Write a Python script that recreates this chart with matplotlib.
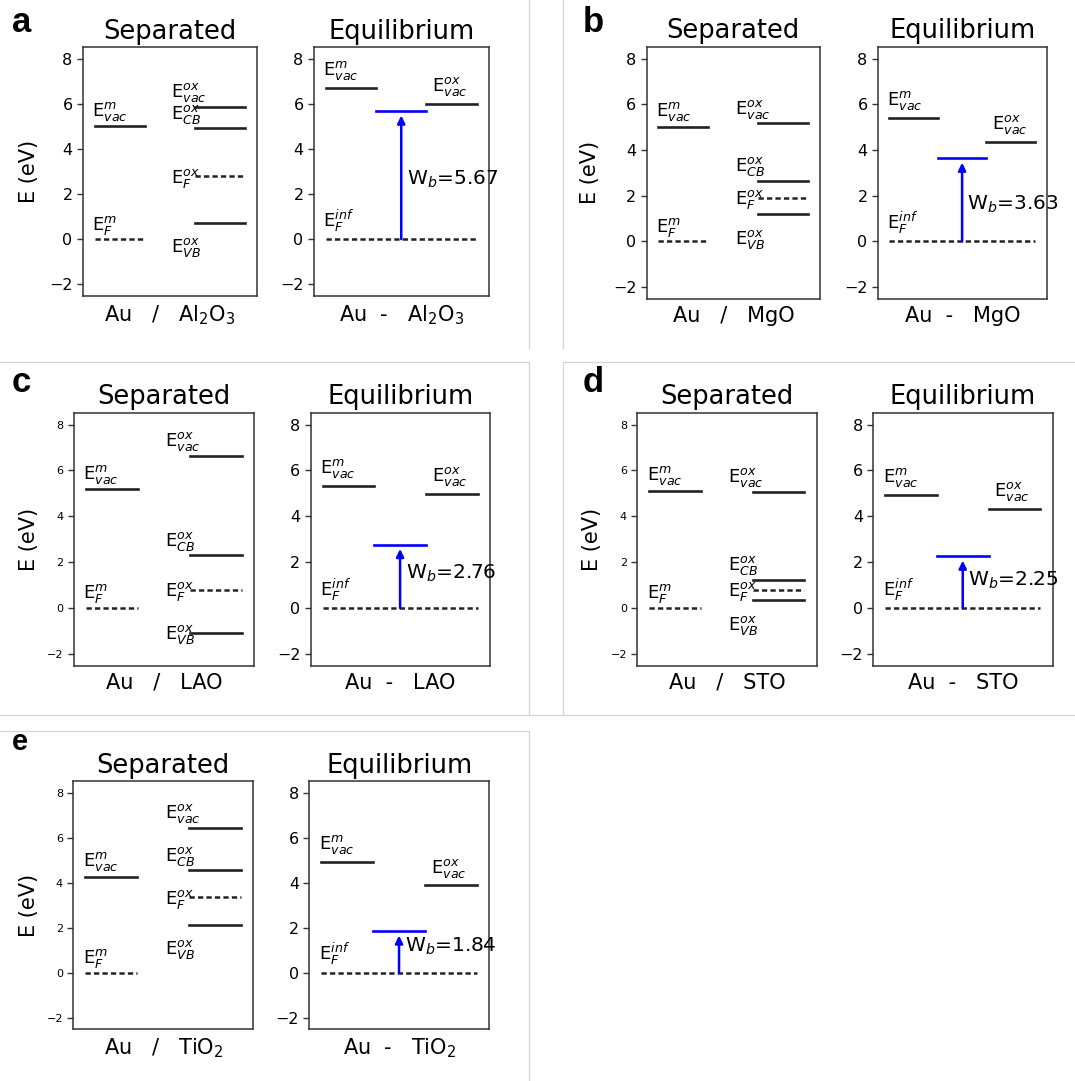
import matplotlib
matplotlib.use("Agg")
import matplotlib.pyplot as plt
from matplotlib.lines import Line2D

plt.rcParams['font.family'] = ['DejaVu Sans']
plt.rcParams['lines.scale_dashes'] = False

# ---------------- data (eV) ----------------
panel_letters = ['a', 'b', 'c', 'd', 'e']
oxides = ['Al$_2$O$_3$', 'MgO', 'LAO', 'STO', 'TiO$_2$']
au_evac_sep = [5.00, 5.02, 5.18, 5.12, 4.27]
au_ef_sep = [0.0, 0.0, 0.0, 0.0, 0.0]
ox_evac_sep = [5.88, 5.17, 6.63, 5.06, 6.45]
ox_cb_sep = [4.92, 2.64, 2.29, 1.22, 4.55]
ox_ef_sep = [2.79, 1.90, 0.79, 0.78, 3.35]
ox_vb_sep = [0.73, 1.20, -1.11, 0.34, 2.13]
au_evac_eq = [6.70, 5.40, 5.30, 4.92, 4.94]
ox_evac_eq = [6.00, 4.36, 4.96, 4.32, 3.88]
ef_eq = [0.0, 0.0, 0.0, 0.0, 0.0]
wb = [5.67, 3.63, 2.76, 2.25, 1.84]
yticks = [-2, 0, 2, 4, 6, 8]

# ---------------- layout (pixels) ----------------
W, H = 1075, 1081
sep_boxes = [(83, 47, 257, 296), (646.7, 46.7, 820, 299), (74, 412.7, 254, 665.7),
             (637.3, 412.7, 816.7, 665.7), (73.3, 781, 253.3, 1029.3)]
eq_boxes = [(314, 47, 489, 296), (878, 46.7, 1046.7, 299), (310.7, 412.7, 490, 665.7),
            (873.3, 412.7, 1052.7, 665.7), (309.3, 781, 489.3, 1029.3)]
sep_tick_size = [11.5, 11.5, 8, 8, 8]
letter_pos = [(12, 32), (583, 32), (12, 392), (583, 392), (12, 750)]
letter_size = [25, 25, 25, 25, 21]
ylabel_x = [29, 590, 29, 591.7, 29]
wb_text_y = [2.65, 1.61, 1.53, 1.20, 1.16]

fig = plt.figure(figsize=(W / 100, H / 100), dpi=100)


def add_ax(box):
    x0, y0, x1, y1 = box
    return fig.add_axes([x0 / W, 1 - y1 / H, (x1 - x0) / W, (y1 - y0) / H])


LC = '#222222'
LW = 1.9
DLW = 1.8
DASH = (3.8, 2.3)
XL = (-0.23, 3.24)
YL = (-2.52, 8.52)
LABFS = 13


def style(ax, tick_size):
    ax.set_xlim(*XL)
    ax.set_ylim(*YL)
    ax.set_xticks([])
    ax.set_yticks(yticks)
    ax.tick_params(axis='y', labelsize=tick_size, color='#333333', length=4, width=1)
    for s in ax.spines.values():
        s.set_color('#333333')
        s.set_linewidth(1.1)


for i in range(5):
    # ---------- separated ----------
    ax = add_ax(sep_boxes[i])
    style(ax, sep_tick_size[i])
    ax.set_title('Separated', fontsize=18.5)
    ax.set_xlabel('Au   /   ' + oxides[i], fontsize=15, labelpad=5)
    ax.plot([0, 1], [au_evac_sep[i]] * 2, color=LC, lw=LW)
    ax.plot([0, 1], [au_ef_sep[i]] * 2, color=LC, lw=DLW, dashes=DASH)
    ax.plot([2, 3], [ox_evac_sep[i]] * 2, color=LC, lw=LW)
    ax.plot([2, 3], [ox_cb_sep[i]] * 2, color=LC, lw=LW)
    ax.plot([2, 3], [ox_ef_sep[i]] * 2, color=LC, lw=DLW, dashes=DASH)
    ax.plot([2, 3], [ox_vb_sep[i]] * 2, color=LC, lw=LW)
    ax.text(-0.05, au_evac_sep[i] + 0.45, r'E$^{m}_{vac}$', fontsize=LABFS)
    ax.text(-0.05, au_ef_sep[i] + 0.42, r'E$^{m}_{F}$', fontsize=LABFS)
    ax.text(1.53, ox_evac_sep[i] + 0.42, r'E$^{ox}_{vac}$', fontsize=LABFS)
    ax.text(1.53, ox_cb_sep[i] + 0.42, r'E$^{ox}_{CB}$', fontsize=LABFS)
    ax.text(1.53, ox_ef_sep[i] - 0.28, r'E$^{ox}_{F}$', fontsize=LABFS)
    vb_off = -1.32 if ox_vb_sep[i] - 1.32 > -2.0 else -0.26
    ax.text(1.53, ox_vb_sep[i] + vb_off, r'E$^{ox}_{VB}$', fontsize=LABFS)

    # ---------- equilibrium ----------
    ax2 = add_ax(eq_boxes[i])
    style(ax2, 11.5)
    ax2.set_title('Equilibrium', fontsize=18.5)
    ax2.set_xlabel('Au  -   ' + oxides[i], fontsize=15, labelpad=5)
    ax2.plot([0, 1], [au_evac_eq[i]] * 2, color=LC, lw=LW)
    ax2.plot([2, 3], [ox_evac_eq[i]] * 2, color=LC, lw=LW)
    ax2.plot([1, 2], [wb[i]] * 2, color='blue', lw=LW)
    ax2.plot([0, 3], [ef_eq[i]] * 2, color=LC, lw=DLW, dashes=DASH)
    ax2.annotate('', xy=(1.5, wb[i]), xytext=(1.5, ef_eq[i]),
                 arrowprops=dict(arrowstyle='-|>,head_length=0.45,head_width=0.22',
                                 color='blue', lw=1.8, mutation_scale=10,
                                 shrinkA=0, shrinkB=3))
    ax2.text(-0.05, au_evac_eq[i] + 0.57, r'E$^{m}_{vac}$', fontsize=LABFS)
    ax2.text(2.11, ox_evac_eq[i] + 0.57, r'E$^{ox}_{vac}$', fontsize=LABFS)
    ax2.text(-0.05, ef_eq[i] + 0.55, r'E$^{inf}_{F}$', fontsize=LABFS)
    ax2.text(1.61, wb_text_y[i], 'W$_b$=%.2f' % wb[i], fontsize=14.5, va='center')

    # panel letter and y label
    lx, ly = letter_pos[i]
    fig.text(lx / W, 1 - ly / H, panel_letters[i], fontsize=letter_size[i],
             fontweight='bold', family=['Liberation Sans', 'DejaVu Sans'],
             ha='left', va='baseline')
    cy = (sep_boxes[i][1] + sep_boxes[i][3]) / 2
    fig.text(ylabel_x[i] / W, 1 - cy / H, 'E (eV)', fontsize=15, rotation=90,
             ha='center', va='center')

# ---------------- separator lines between sub-figures ----------------
SEPC = '#d4d4d4'
segments = [((529, 0), (529, 348)), ((563, 0), (563, 348)),
            ((0, 362), (529, 362)), ((563, 362), (1075, 362)),
            ((529, 362), (529, 715)), ((563, 362), (563, 715)),
            ((0, 715), (1075, 715)),
            ((0, 731), (529, 731)), ((529, 731), (529, 1081))]
for (xa, ya), (xb, yb) in segments:
    fig.add_artist(Line2D([xa / W, xb / W], [1 - ya / H, 1 - yb / H],
                          transform=fig.transFigure, color=SEPC, lw=0.9))

fig.savefig('out.png', dpi=100, facecolor='white')
